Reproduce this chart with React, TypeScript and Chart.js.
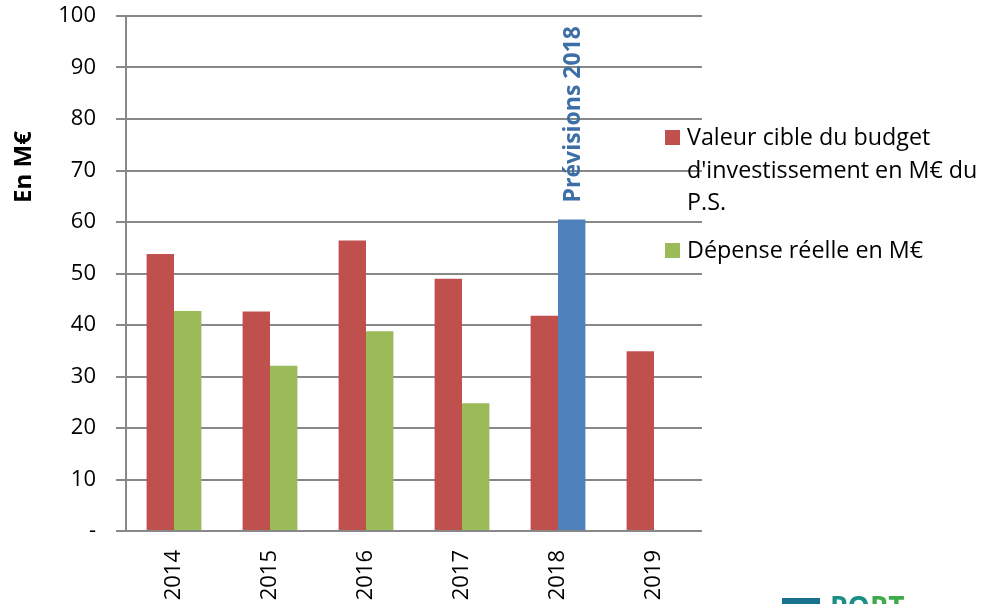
import React, { useEffect, useRef } from "react";
import { Chart, registerables } from "chart.js";

Chart.register(...registerables);

// ---- data ----
const categories = ["2014", "2015", "2016", "2017", "2018", "2019"];
const cibleValues = [53.8, 42.6, 56.4, 49.0, 41.8, 34.9];
const reelleValues: (number | null)[] = [42.7, 32.1, 38.8, 24.8, 60.5, null];
const forecastIndex = 4;
const forecastLabel = "Prévisions 2018";
const yMin = 0;
const yMax = 100;
const yStep = 10;
const zeroTickLabel = "-";
const yTitle = "En M€";
const legendCibleLines = ["Valeur cible du budget", "d'investissement en M€ du", "P.S."];
const legendReelleLines = ["Dépense réelle en M€"];

// ---- styles ----
const RED = "#C0504D";
const GREEN = "#9BBB59";
const BLUE = "#4F81BD";
const LABEL_BLUE = "#3E6EA6";
const GRID = "#888888";
const FONT = "'Open Sans', 'DejaVu Sans', sans-serif";

const annotationsPlugin = {
  id: "annotationsPlugin",
  afterDatasetsDraw(chart: any) {
    const ctx = chart.ctx;
    const meta = chart.getDatasetMeta(1);
    const el = meta.data[forecastIndex];
    if (el) {
      ctx.save();
      ctx.translate(el.x + 2, el.y - 17);
      ctx.rotate(-Math.PI / 2);
      ctx.font = `bold 23px ${FONT}`;
      ctx.fillStyle = LABEL_BLUE;
      ctx.textAlign = "left";
      ctx.textBaseline = "middle";
      ctx.fillText(forecastLabel, 0, 0);
      ctx.restore();
    }
    // y axis title
    ctx.save();
    ctx.translate(24, 167);
    ctx.rotate(-Math.PI / 2);
    ctx.font = `bold 24px ${FONT}`;
    ctx.fillStyle = "#000";
    ctx.textAlign = "center";
    ctx.textBaseline = "middle";
    ctx.fillText(yTitle, 0, 0);
    ctx.restore();
  },
};

export default function App() {
  const canvasRef = useRef<HTMLCanvasElement | null>(null);

  useEffect(() => {
    if (!canvasRef.current) return;
    const chart = new Chart(canvasRef.current, {
      type: "bar",
      data: {
        labels: categories,
        datasets: [
          {
            label: legendCibleLines.join(" "),
            data: cibleValues,
            backgroundColor: RED,
            categoryPercentage: 0.571,
            barPercentage: 1,
          },
          {
            label: legendReelleLines.join(" "),
            data: reelleValues,
            backgroundColor: reelleValues.map((_, i) => (i === forecastIndex ? BLUE : GREEN)),
            categoryPercentage: 0.571,
            barPercentage: 1,
          },
        ],
      },
      options: {
        animation: false,
        responsive: false,
        devicePixelRatio: 1,
        layout: { padding: { left: 0, top: 16, right: 288, bottom: 0 } },
        plugins: {
          legend: { display: false },
          tooltip: { enabled: false },
          title: { display: false },
        },
        scales: {
          x: {
            grid: { display: false },
            border: { display: false },
            ticks: {
              minRotation: 90,
              maxRotation: 90,
              padding: 11,
              color: "#000",
              font: { family: FONT, size: 22 },
            },
            afterFit: (s: any) => {
              s.height = 73;
              s.paddingLeft = 0;
              s.paddingRight = 0;
            },
          },
          y: {
            min: yMin,
            max: yMax,
            ticks: {
              stepSize: yStep,
              padding: 20,
              color: "#000",
              font: { family: FONT, size: 22 },
              callback: (v: any) => (Number(v) === 0 ? zeroTickLabel : String(v)),
            },
            grid: { color: GRID, lineWidth: 2, tickLength: 10 },
            border: { color: GRID, width: 2 },
            afterFit: (s: any) => {
              s.width = 126;
              s.paddingTop = 0;
              s.paddingBottom = 0;
            },
          },
        },
      },
      plugins: [annotationsPlugin],
    });
    return () => chart.destroy();
  }, []);

  const textStyle: React.CSSProperties = {
    position: "absolute",
    left: 687,
    fontFamily: FONT,
    fontSize: 23.3,
    lineHeight: "32.5px",
    color: "#000",
    whiteSpace: "nowrap",
  };

  return (
    <div
      style={{
        position: "absolute",
        left: 0,
        top: 0,
        width: 990,
        height: 604,
        overflow: "hidden",
        background: "#fff",
      }}
    >
      <canvas ref={canvasRef} width={990} height={604} style={{ width: 990, height: 604, display: "block" }} />
      <div style={{ position: "absolute", left: 665, top: 130, width: 15, height: 15, background: RED }} />
      <div style={{ ...textStyle, top: 120.3 }}>
        {legendCibleLines.map((l, i) => (
          <div key={i}>{l}</div>
        ))}
      </div>
      <div style={{ position: "absolute", left: 665, top: 243, width: 15, height: 15, background: GREEN }} />
      <div style={{ ...textStyle, top: 232.9 }}>
        {legendReelleLines.map((l, i) => (
          <div key={i}>{l}</div>
        ))}
      </div>
      {/* partially visible logo at the bottom edge */}
      <div style={{ position: "absolute", left: 782, top: 598, width: 38, height: 12, background: "#17728f" }} />
      <div
        style={{
          position: "absolute",
          left: 830,
          top: 592,
          fontFamily: FONT,
          fontWeight: 700,
          fontSize: 28,
          lineHeight: 1,
          whiteSpace: "nowrap",
        }}
      >
        <span style={{ color: "#1b8f86" }}>PO</span>
        <span style={{ color: "#3dab4a" }}>RT</span>
      </div>
    </div>
  );
}
